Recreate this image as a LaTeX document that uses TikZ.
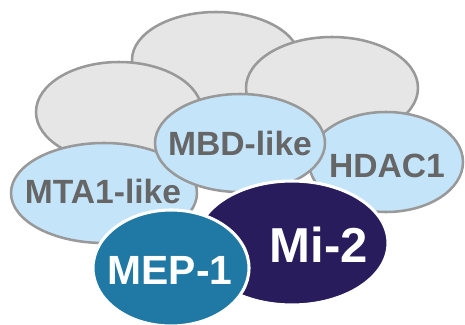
\documentclass[tikz,border=0pt]{standalone}
\usepackage{fontspec}
\setmainfont{Liberation Sans}
\usetikzlibrary{shapes.geometric}
\definecolor{grayfill}{HTML}{E6E6E6}
\definecolor{grayline}{HTML}{999999}
\definecolor{bluefill}{HTML}{C4E4FA}
\definecolor{labgray}{HTML}{666666}
\definecolor{miblue}{HTML}{281C5C}
\definecolor{mepblue}{HTML}{2079A4}
\tikzset{
  blob/.style={ellipse, inner sep=0pt, outer sep=0pt, line width=1.9pt},
  graybox/.style={blob, draw=grayline, fill=grayfill},
  bluebox/.style={blob, draw=grayline, fill=bluefill},
  darkbox/.style={blob, draw=white, line width=2.3pt},
  graylab/.style={text=labgray, font=\bfseries\fontsize{25.2}{29}\selectfont, inner sep=0pt},
  whitelab/.style={text=white, inner sep=0pt}
}
\begin{document}
\begin{tikzpicture}[x=0.75pt,y=-0.75pt]
\useasboundingbox (0,0) rectangle (465,325);
\node[graybox, minimum width=126pt, minimum height=72pt] (top) at (216,60) {};
\node[graybox, minimum width=124.5pt, minimum height=75pt] (left) at (119,112) {};
\node[graybox, minimum width=129pt, minimum height=76.5pt] (right) at (332,88) {};
\node[bluebox, minimum width=139.5pt, minimum height=75pt] (mta) at (104,193) {};
\node[bluebox, minimum width=115.5pt, minimum height=75pt] (hdac) at (386,162) {};
\node[bluebox, minimum width=127.5pt, minimum height=73.5pt] (mbd) at (240,143) {};
\node[darkbox, fill=miblue, minimum width=144pt, minimum height=93pt] (mi) at (292,243) {};
\node[darkbox, fill=mepblue, minimum width=117pt, minimum height=87pt] (mep) at (171,268) {};
\node[graylab] (mbdt) at (240,143) {MBD-like};
\node[graylab] (hdact) at (387,166) {HDAC1};
\node[graylab] (mtat) at (103,191) {MTA1-like};
\node[whitelab, font=\bfseries\fontsize{36.8}{40}\selectfont] (mit) at (319,245) {Mi-2};
\node[whitelab, font=\bfseries\fontsize{30.6}{34}\selectfont] (mept) at (170,270) {MEP-1};
\end{tikzpicture}
\end{document}
